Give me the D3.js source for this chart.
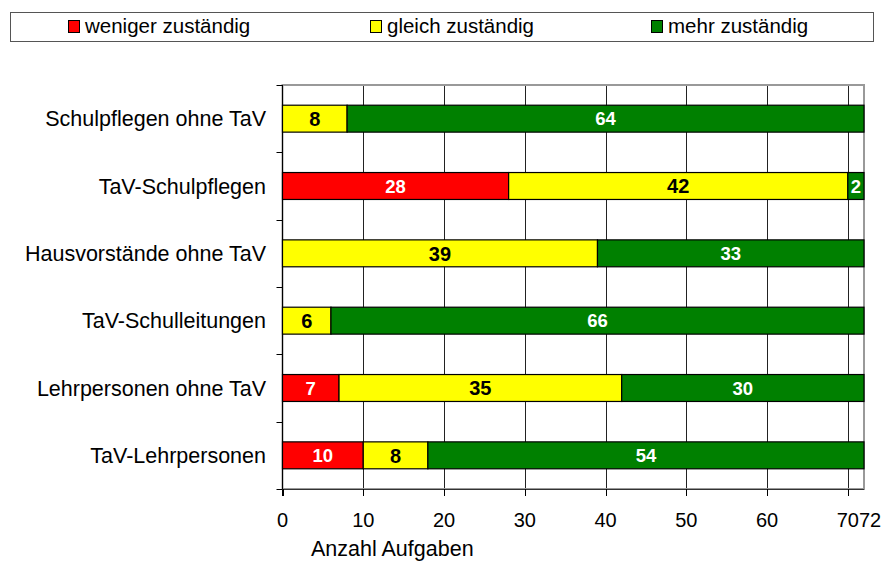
<!DOCTYPE html>
<html><head><meta charset="utf-8">
<script src="https://cdn.jsdelivr.net/npm/d3@7"></script>
<style>body{margin:0;background:#fff;} svg{display:block;font-family:"Liberation Sans",Arial,sans-serif;}</style>
</head><body>
<svg id="c" width="884" height="563"></svg>
<script>
const categories = ["Schulpflegen ohne TaV","TaV-Schulpflegen","Hausvorstände ohne TaV","TaV-Schulleitungen","Lehrpersonen ohne TaV","TaV-Lehrpersonen"];
const seriesNames = ["weniger zuständig","gleich zuständig","mehr zuständig"];
const weniger = [0,28,0,0,7,10];
const gleich = [8,42,39,6,35,8];
const mehr = [64,2,33,66,30,54];
const xTicks = [0,10,20,30,40,50,60,70,72];
const colors = ["#ff0000","#ffff00","#008000"];
const labelColors = ["#fff","#000","#fff"];

const svg = d3.select("#c");
const m = {l:282.5, r:864, t:85, b:489};
const x = d3.scaleLinear().domain([0,72]).range([m.l,m.r]);
const y = d3.scaleBand().domain(categories).range([m.t,m.b]).paddingInner(0.6).paddingOuter(0.3);

// gridlines
svg.append("g").selectAll("line").data(xTicks.filter(d=>d>0&&d<72)).join("line")
  .attr("x1",d=>Math.round(x(d))+0.5).attr("x2",d=>Math.round(x(d))+0.5)
  .attr("y1",m.t).attr("y2",m.b).attr("stroke","#222").attr("stroke-width",1);
// plot border
svg.append("rect").attr("x",m.l).attr("y",m.t).attr("width",m.r-m.l).attr("height",m.b-m.t)
  .attr("fill","none").attr("stroke","#999").attr("stroke-width",2);

const data = categories.map((c,i)=>({c, v:[weniger[i],gleich[i],mehr[i]]}));
const gBars = svg.append("g");
data.forEach(d=>{
  let acc=0;
  d.v.forEach((v,k)=>{
    if(v>0){
      const x0=x(acc), x1=x(acc+v);
      gBars.append("rect").attr("x",x0).attr("y",y(d.c)).attr("width",x1-x0).attr("height",y.bandwidth())
        .attr("fill",colors[k]).attr("stroke","#000").attr("stroke-width",1.2);
      gBars.append("text").attr("x",(x0+x1)/2).attr("y",y(d.c)+y.bandwidth()/2)
        .attr("dy","0.36em").attr("text-anchor","middle").attr("font-weight","bold")
        .attr("font-size", k===1?20:18.5).attr("fill",labelColors[k]).text(v);
    }
    acc+=v;
  });
});

// y axis
const yAxisG = svg.append("g");
yAxisG.append("line").attr("x1",m.l).attr("x2",m.l).attr("y1",m.t).attr("y2",m.b+7).attr("stroke","#000");
const bounds = d3.range(categories.length+1).map(i=>m.t+i*(m.b-m.t)/categories.length);
yAxisG.selectAll("line.t").data(bounds).join("line").attr("class","t")
  .attr("x1",m.l-6).attr("x2",m.l).attr("y1",d=>Math.round(d)+0.5).attr("y2",d=>Math.round(d)+0.5).attr("stroke","#000");
yAxisG.selectAll("text").data(categories).join("text")
  .attr("x",266).attr("y",d=>y(d)+y.bandwidth()/2).attr("dy","0.36em").attr("text-anchor","end")
  .attr("font-size",21.5).attr("fill","#000").text(d=>d);

// x axis
const xAxisG = svg.append("g");
xAxisG.append("line").attr("x1",m.l).attr("x2",m.r).attr("y1",m.b+0.5).attr("y2",m.b+0.5).attr("stroke","#333");
xAxisG.selectAll("line.t").data(xTicks.filter(d=>d<72)).join("line").attr("class","t")
  .attr("x1",d=>Math.round(x(d))+0.5).attr("x2",d=>Math.round(x(d))+0.5).attr("y1",m.b).attr("y2",m.b+7).attr("stroke","#000");
xAxisG.selectAll("text").data(xTicks).join("text")
  .attr("x",d=>d===72?x(d)-5:x(d)).attr("y",527).attr("text-anchor",d=>d===72?"start":"middle")
  .attr("font-size",20).attr("fill","#000").text(d=>d);
svg.append("text").attr("x",311).attr("y",556).attr("font-size",21.5).attr("fill","#000").text("Anzahl Aufgaben");

// legend
const lg = svg.append("g");
lg.append("rect").attr("x",10.5).attr("y",12.5).attr("width",863).attr("height",29).attr("fill","#fff").attr("stroke","#555");
const lx = [68,370,651];
seriesNames.forEach((n,i)=>{
  lg.append("rect").attr("x",lx[i]+0.5).attr("y",20.5).attr("width",11).attr("height",12).attr("fill",colors[i]).attr("stroke","#000");
  lg.append("text").attr("x",lx[i]+17).attr("y",33).attr("font-size",20.5).attr("fill","#000").text(n);
});
</script>
</body></html>
